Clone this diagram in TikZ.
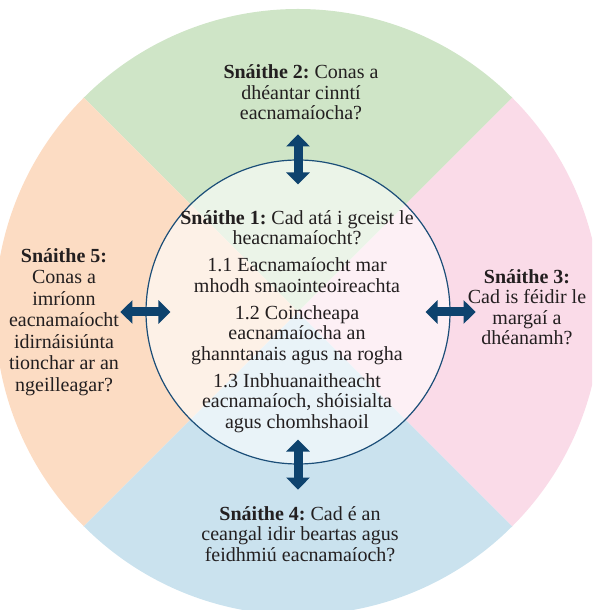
\documentclass[tikz,border=0pt]{standalone}
\usepackage{fontspec}
\setmainfont{Liberation Serif}
\usetikzlibrary{arrows.meta}
\frenchspacing

\definecolor{strandgreen}{RGB}{207,229,199}
\definecolor{strandpink}{RGB}{250,219,232}
\definecolor{strandorange}{RGB}{252,220,195}
\definecolor{strandblue}{RGB}{202,226,238}
\definecolor{navyline}{RGB}{27,78,120}
\definecolor{navyarrow}{RGB}{14,67,110}
\definecolor{inktext}{RGB}{35,31,32}

\begin{document}
\begin{tikzpicture}[x=1pt, y=1pt,
    question/.style={align=center, text=inktext, inner sep=0pt,
        font=\fontsize{20}{20.5}\selectfont},
    linkarrow/.style={navyarrow, line width=9pt,
        {Triangle[width=23pt,length=12pt]}-{Triangle[width=23pt,length=12pt]}}
]
    \useasboundingbox (0,0) rectangle (592,610);
    \clip (0,0) rectangle (592,610);

    % Quarters of the outer ring
    \foreach \a/\b/\col in {45/135/strandgreen, 135/225/strandorange,
                            225/315/strandblue, -45/45/strandpink}{
        \fill[\col] (298,298) -- ++(\a:303) arc[start angle=\a, end angle=\b, radius=303] -- cycle;
    }

    % Centre circle (quarters show through)
    \node[circle, draw=navyline, line width=1.2pt, fill=white, fill opacity=0.6,
          draw opacity=1, minimum size=304pt, inner sep=0pt] (core) at (298,298) {};

    % Arrows across the rim of the centre circle
    \foreach \anc/\dx/\dy in {north/0/25, south/0/25, west/25/0, east/25/0}{
        \draw[linkarrow] ([shift={(\dx,\dy)}]core.\anc) -- ([shift={(-\dx,-\dy)}]core.\anc);
    }

    % Texts
    \node[question] (s1) at (297,288.5) {\textbf{Snáithe 1:} Cad atá i gceist le\\heacnamaíocht?\\[6.5pt]
        1.1 Eacnamaíocht mar\\mhodh smaointeoireachta\\[6.5pt]
        1.2 Coincheapa\\eacnamaíocha an\\ghanntanais agus na rogha\\[6.5pt]
        1.3 Inbhuanaitheacht\\eacnamaíoch, shóisialta\\agus chomhshaoil};
    \node[question] (s2) at (301,517.5) {\textbf{Snáithe 2:} Conas a\\dhéantar cinntí\\eacnamaíocha?};
    \node[question] (s3) at (527,303) {\textbf{Snáithe 3:}\\Cad is féidir le\\margaí a\\dhéanamh?};
    \node[question] (s4) at (300,76) {\textbf{Snáithe 4:} Cad é an\\ceangal idir beartas agus\\feidhmiú eacnamaíoch?};
    \node[question, font=\fontsize{20}{21.5}\selectfont] (s5) at (64,288)
        {\textbf{Snáithe 5:}\\Conas a\\imríonn\\eacnamaíocht\\idirnáisiúnta\\tionchar ar an\\ngeilleagar?};
\end{tikzpicture}
\end{document}
